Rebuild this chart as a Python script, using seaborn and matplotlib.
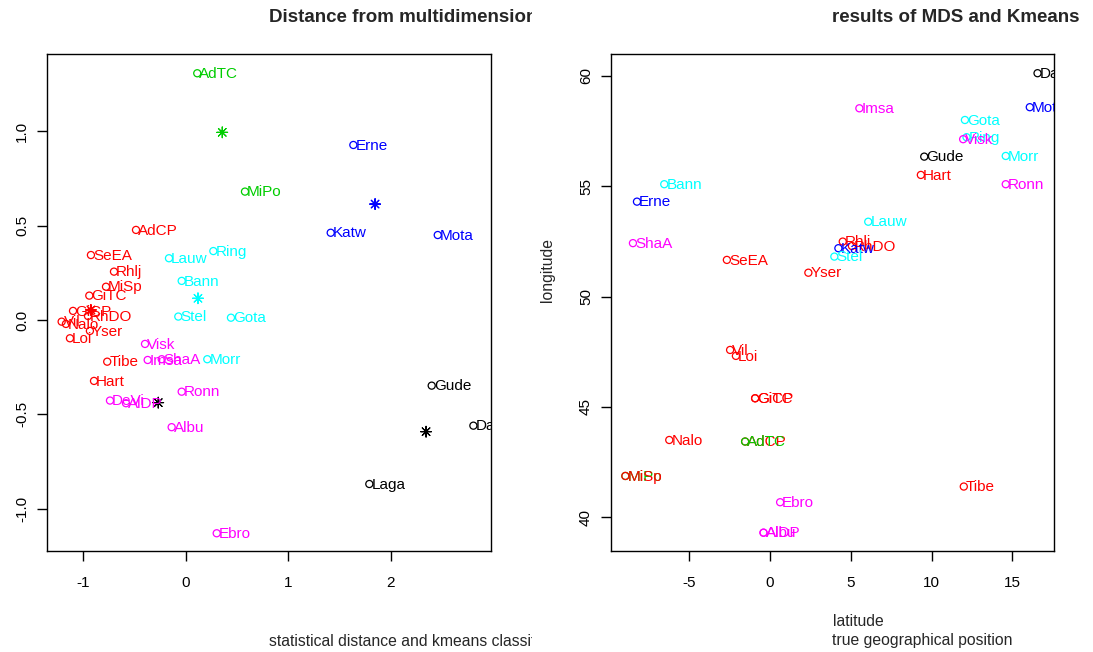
import numpy as np
import pandas as pd
import matplotlib
matplotlib.use("Agg")
import matplotlib.pyplot as plt
import seaborn as sns
from matplotlib.transforms import Bbox, TransformedBbox

# ---------------- data ----------------
# left panel: MDS coordinates of each sample, and k-means cluster colour
mds_labels = ["AdCP", "SeEA", "Rhlj", "MiSp", "GiTC", "GiCP", "RhDO", "Vil", "Nalo", "Yser", "Loi",
              "Tibe", "Hart", "AdTC", "MiPo", "Erne", "Katw", "Mota",
              "Lauw", "Ring", "Bann", "Stel", "Gota", "Morr",
              "Visk", "Imsa", "ShaA", "Ronn", "DeVi", "AlDP", "Albu", "Ebro",
              "Gude", "Dala", "Laga"]
mds_x = [-0.485, -0.925, -0.700, -0.778, -0.941, -1.100, -0.954, -1.211, -1.169, -0.935, -1.130,
         -0.766, -0.895, 0.113, 0.579, 1.637, 1.416, 2.461,
         -0.163, 0.270, -0.039, -0.072, 0.442, 0.211,
         -0.397, -0.371, -0.234, -0.039, -0.739, -0.583, -0.137, 0.303,
         2.402, 2.809, 1.793]
mds_y = [0.477, 0.344, 0.256, 0.176, 0.129, 0.048, 0.021, -0.009, -0.021, -0.058, -0.097,
         -0.221, -0.323, 1.307, 0.680, 0.927, 0.462, 0.450,
         0.327, 0.365, 0.207, 0.018, 0.012, -0.208,
         -0.127, -0.212, -0.208, -0.380, -0.427, -0.441, -0.568, -1.130,
         -0.348, -0.560, -0.869]
mds_cluster = ["red"] * 13 + ["green"] * 2 + ["blue"] * 3 + ["cyan"] * 6 + ["magenta"] * 8 + ["black"] * 3

# k-means centres
centre_x = [0.357, 1.849, 0.120, -0.925, -0.268, 2.347]
centre_y = [0.994, 0.614, 0.115, 0.053, -0.438, -0.592]
centre_cluster = ["green", "blue", "cyan", "red", "black", "black"]

# right panel: geographical position (longitude on x, latitude on y)
geo_labels = ["SeEA", "Yser", "Rhlj", "RhDO", "Hart", "Vil", "Loi", "GiTC", "GiCP", "AdCP", "Nalo",
              "MiPo", "MiSp", "Tibe", "AdTC",
              "Erne", "Katw", "Mota",
              "Bann", "Lauw", "Stel", "Gota", "Morr", "Ring",
              "Imsa", "Visk", "ShaA", "Ronn", "Ebro", "Albu", "AlDP",
              "Dala", "Gude"]
geo_x = [-2.68, 2.37, 4.50, 5.07, 9.34, -2.48, -2.12, -0.93, -0.93, -1.55, -6.25,
         -8.97, -8.97, 12.00, -1.55,
         -8.25, 4.23, 16.09,
         -6.56, 6.08, 3.98, 12.07, 14.60, 12.17,
         5.53, 11.96, -8.50, 14.60, 0.62, -0.41, -0.41,
         16.57, 9.55]
geo_y = [51.66, 51.08, 52.49, 52.29, 55.51, 47.58, 47.31, 45.39, 45.39, 43.43, 43.50,
         41.87, 41.87, 41.39, 43.43,
         54.30, 52.19, 58.58,
         55.09, 53.39, 51.81, 58.00, 56.37, 57.22,
         58.53, 57.13, 52.42, 55.09, 40.68, 39.30, 39.30,
         60.12, 56.34]
geo_cluster = ["red"] * 11 + ["green", "red", "red", "green"] + ["blue"] * 3 + ["cyan"] * 6 + \
              ["magenta"] * 7 + ["black"] * 2

palette = {"red": "#FF0000", "green": "#00CD00", "blue": "#0000FF",
           "cyan": "#00FFFF", "magenta": "#FF00FF", "black": "#000000"}

# ---------------- style ----------------
sns.set_style("white")
plt.rcParams["font.family"] = ["Liberation Sans", "DejaVu Sans"]

fig = plt.figure(figsize=(10.93, 6.52), dpi=100)
ax1 = fig.add_axes([47 / 1093, 1 - 551 / 652, 444 / 1093, 497 / 652])
ax2 = fig.add_axes([611 / 1093, 1 - 551 / 652, 443 / 1093, 497 / 652])


def draw_points(ax, labels, xs, ys, clusters):
    df = pd.DataFrame({"x": xs, "y": ys, "cluster": clusters, "label": labels})
    sns.scatterplot(data=df, x="x", y="y", hue="cluster", palette=palette, marker="o",
                    s=26, linewidth=0.9, legend=False, ax=ax, zorder=3)
    coll = ax.collections[-1]
    fc = coll.get_facecolors()
    coll.set_edgecolors(fc)
    coll.set_facecolors("none")
    for lab, x, y, c in zip(labels, xs, ys, clusters):
        t = ax.annotate(lab, (x, y), xytext=(1.5, -0.5), textcoords="offset points",
                        ha="left", va="center", fontsize=11, color=palette[c],
                        annotation_clip=False, zorder=4)
        t.set_clip_on(True)
        t.set_clip_box(ax.bbox)


def style_axes(ax):
    for sp in ax.spines.values():
        sp.set_visible(True)
        sp.set_color("black")
        sp.set_linewidth(1.0)
    ax.tick_params(axis="both", direction="out", length=7, width=1.0, labelsize=11,
                   colors="black", bottom=True, left=True)
    ax.tick_params(axis="x", pad=11)
    ax.tick_params(axis="y", pad=6)
    for lab in ax.get_yticklabels():
        lab.set_rotation(90)
        lab.set_va("center")
    ax.set_xlabel("")
    ax.set_ylabel("")
    ax.grid(False)


# left panel
draw_points(ax1, mds_labels, mds_x, mds_y, mds_cluster)
cdf = pd.DataFrame({"x": centre_x, "y": centre_y, "cluster": centre_cluster})
sns.scatterplot(data=cdf, x="x", y="y", hue="cluster", palette=palette, marker=(8, 2, 0),
                s=60, linewidth=0.8, legend=False, ax=ax1, zorder=3)
ax1.set_xlim(-1.354, 2.981)
ax1.set_ylim(-1.224, 1.409)
ax1.set_xticks([-1, 0, 1, 2])
ax1.set_xticklabels(["-1", "0", "1", "2"])
ax1.set_yticks([-1.0, -0.5, 0.0, 0.5, 1.0])
ax1.set_yticklabels(["-1.0", "-0.5", "0.0", "0.5", "1.0"])
style_axes(ax1)

# right panel
draw_points(ax2, geo_labels, geo_x, geo_y, geo_cluster)
ax2.set_xlim(-9.86, 17.59)
ax2.set_ylim(38.47, 60.99)
ax2.set_xticks([-5, 0, 5, 10, 15])
ax2.set_xticklabels(["-5", "0", "5", "10", "15"])
ax2.set_yticks([40, 45, 50, 55, 60])
ax2.set_yticklabels(["40", "45", "50", "55", "60"])
style_axes(ax2)

# texts left-justified at the plot centre, clipped to each figure half
left_clip = TransformedBbox(Bbox([[0, 0], [532 / 1093, 1]]), fig.transFigure)
right_clip = TransformedBbox(Bbox([[530 / 1093, 0], [1079 / 1093, 1]]), fig.transFigure)


def ftext(x_px, y_px, s, clip, **kw):
    t = fig.text(x_px / 1093, 1 - y_px / 652, s, **kw)
    t.set_clip_box(clip)
    t.set_clip_on(True)
    return t


ftext(269, 17, "Distance from multidimensional scaling", left_clip, ha="left", va="center",
      fontsize=13.5, fontweight="bold")
ftext(832.5, 17, "results of MDS and Kmeans clustering", right_clip, ha="left", va="center",
      fontsize=13.5, fontweight="bold")
ftext(269, 641, "statistical distance and kmeans classification", left_clip, ha="left",
      va="center", fontsize=11.3)
ftext(832.5, 622, "latitude", right_clip, ha="left", va="center", fontsize=11.3)
ftext(832.5, 641, "true geographical position", right_clip, ha="left", va="center", fontsize=11.3)
ftext(547, 302.5, "longitude", right_clip, ha="left", va="center", fontsize=11.3,
      rotation=90, rotation_mode="anchor")

fig.savefig("out.png", dpi=100)
